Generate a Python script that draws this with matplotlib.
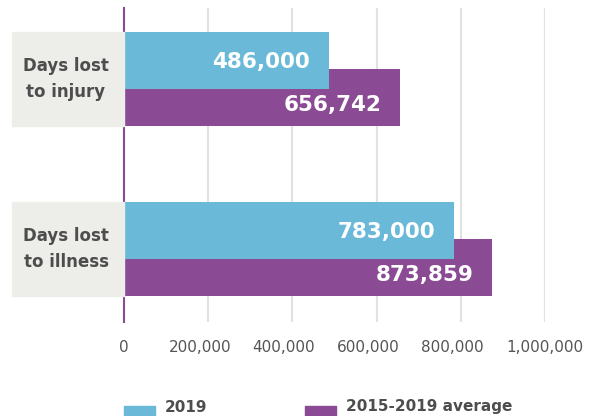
import matplotlib.pyplot as plt
from matplotlib.patches import Rectangle
from matplotlib.transforms import blended_transform_factory, ScaledTranslation

categories = ["Days lost\nto injury", "Days lost\nto illness"]
values_2019 = [486000, 783000]
values_avg = [656742, 873859]
series_names = ["2019", "2015-2019 average"]
xticks = [0, 200000, 400000, 600000, 800000, 1000000]

cyan = "#6bb9d8"
purple = "#8b4a94"
grey_txt = "#4d4d4d"

W, H = 592, 416
fig = plt.figure(figsize=(W / 100, H / 100), dpi=100)
# axes: x 124..545 px, y 8..322 px
ax = fig.add_axes([124 / W, 1 - 322 / H, (545 - 124) / W, (322 - 8) / H])

pos = list(range(len(categories)))
bar_h = 0.335
off = 0.11
ax.barh([p + off for p in pos], values_avg, height=bar_h, color=purple, zorder=2)
ax.barh([p - off for p in pos], values_2019, height=bar_h, color=cyan, zorder=3)

ax.set_xlim(0, 1000000)
ax.set_ylim(1.43, -0.418)

for p, v in zip(pos, values_2019):
    ax.text(v - 44000, p - off + 0.01, f"{v:,}", ha="right", va="center",
            color="white", fontsize=15.5, fontweight="bold", zorder=4)
for p, v in zip(pos, values_avg):
    ax.text(v - 44000, p + off + 0.045, f"{v:,}", ha="right", va="center",
            color="white", fontsize=15.5, fontweight="bold", zorder=4)

# grey label boxes left of the axis
tr = blended_transform_factory(fig.transFigure, ax.transData)
for p, name in zip(pos, categories):
    top = p - off - bar_h / 2
    ht = 2 * off + bar_h
    fig.patches.append(Rectangle((12 / W, top), (124 - 12) / W, ht,
                                 transform=tr, color="#ededea", zorder=0))
    fig.text(66 / W, p, name, transform=tr, ha="center", va="center",
             fontsize=12, fontweight="bold", color=grey_txt, linespacing=1.6)

ax.set_xticks(xticks)
ax.set_xticklabels([f"{t:,}" for t in xticks], fontsize=11, color="#555555")
ax.tick_params(axis="x", length=0, pad=13)
# the middle labels sit a little left of their gridlines in the original
for lbl, t in zip(ax.get_xticklabels(), xticks):
    if 0 < t < 1000000:
        lbl.set_transform(lbl.get_transform() + ScaledTranslation(-8.5 / 100, 0, fig.dpi_scale_trans))
ax.set_yticks([])
ax.grid(axis="x", color="#e2e2e2", linewidth=1.5, zorder=0)
ax.set_axisbelow(True)
for s in ["top", "right", "bottom"]:
    ax.spines[s].set_visible(False)
ax.spines["left"].set_color(purple)
ax.spines["left"].set_linewidth(1.5)
ax.spines["left"].set_zorder(5)
ax.axvline(1000000, color="#e2e2e2", linewidth=1.5, zorder=0)

# legend
for x0, col, name in [(124, cyan, series_names[0]), (305, purple, series_names[1])]:
    fig.patches.append(Rectangle((x0 / W, 0), 31 / W, 10 / H,
                                 transform=fig.transFigure, color=col))
    fig.text((x0 + 41) / W, 1 - 407 / H, name, ha="left", va="center",
             fontsize=11, fontweight="bold", color=grey_txt)

fig.savefig("out.png", dpi=100)
